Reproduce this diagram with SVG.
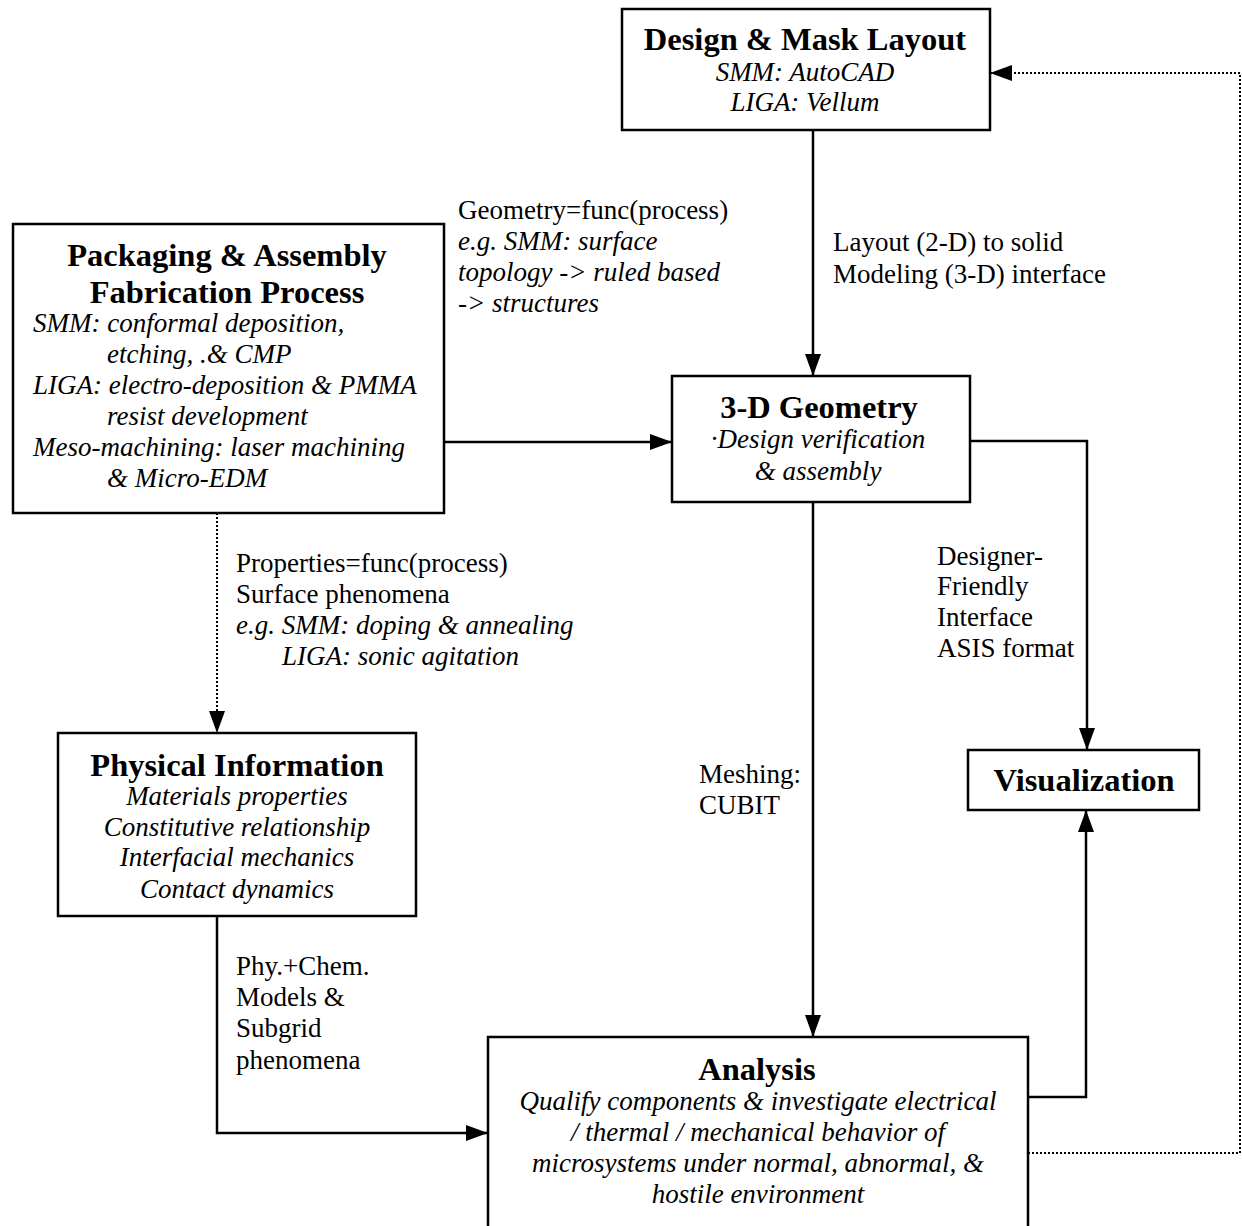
<svg xmlns="http://www.w3.org/2000/svg" width="1242" height="1226" viewBox="0 0 1242 1226">
<defs>
<marker id="ah" viewBox="0 0 22 16" refX="22" refY="8" markerWidth="22" markerHeight="16" markerUnits="userSpaceOnUse" orient="auto">
<path d="M0,0 L22,8 L0,16 Z" fill="#000"/>
</marker>
</defs>
<style>
text{font-family:"Liberation Serif","Times New Roman",serif;fill:#000}
.t{font-size:32.5px;font-weight:bold;text-anchor:middle}
.i{font-size:27px;font-style:italic}
.ic{font-size:27px;font-style:italic;text-anchor:middle}
.n{font-size:27px}
.box{fill:#fff;stroke:#000;stroke-width:2.5}
.c{fill:none;stroke:#000;stroke-width:2.5}
.d{fill:none;stroke:#000;stroke-width:2;stroke-dasharray:2 2}
</style>
<rect width="1242" height="1226" fill="#fff"/>
<g id="connectors">
<path class="c" d="M813,130 V376" marker-end="url(#ah)"/>
<path class="c" d="M444,442 H672" marker-end="url(#ah)"/>
<path class="c" d="M970,441 H1087 V750" marker-end="url(#ah)"/>
<path class="c" d="M813,502 V1037" marker-end="url(#ah)"/>
<path class="d" d="M217,513 V733" marker-end="url(#ah)"/>
<path class="c" d="M217,916 V1133 H488" marker-end="url(#ah)"/>
<path class="c" d="M1028,1097 H1086 V810" marker-end="url(#ah)"/>
<path class="d" d="M1028,1153 H1240 V73 H990" marker-end="url(#ah)"/>
</g>
<g id="labels">
<text class="n" x="833" y="251">Layout (2-D) to solid</text>
<text class="n" x="833" y="283">Modeling (3-D) interface</text>
<text class="n" x="458" y="219">Geometry=func(process)</text>
<text class="i" x="458" y="250">e.g. SMM: surface</text>
<text class="i" x="458" y="281">topology -&gt; ruled based</text>
<text class="i" x="458" y="312">-&gt; structures</text>
<text class="n" x="937" y="565">Designer-</text>
<text class="n" x="937" y="595">Friendly</text>
<text class="n" x="937" y="626">Interface</text>
<text class="n" x="937" y="657">ASIS format</text>
<text class="n" x="699" y="783">Meshing:</text>
<text class="n" x="699" y="814">CUBIT</text>
<text class="n" x="236" y="572">Properties=func(process)</text>
<text class="n" x="236" y="603">Surface phenomena</text>
<text class="i" x="236" y="634">e.g. SMM: doping &amp; annealing</text>
<text class="i" x="282" y="665">LIGA: sonic agitation</text>
<text class="n" x="236" y="975">Phy.+Chem.</text>
<text class="n" x="236" y="1006">Models &amp;</text>
<text class="n" x="236" y="1037">Subgrid</text>
<text class="n" x="236" y="1069">phenomena</text>
</g>
<g id="design">
<rect class="box" x="622" y="9" width="368" height="121"/>
<text class="t" x="805" y="50">Design &amp; Mask Layout</text>
<text class="ic" x="805" y="81">SMM: AutoCAD</text>
<text class="ic" x="805" y="111">LIGA: Vellum</text>
</g>
<g id="packaging">
<rect class="box" x="13" y="224" width="431" height="289"/>
<text class="t" x="227" y="266">Packaging &amp; Assembly</text>
<text class="t" x="227" y="303">Fabrication Process</text>
<text class="i" x="33" y="332">SMM: conformal deposition,</text>
<text class="i" x="107" y="363">etching, .&amp; CMP</text>
<text class="i" x="33" y="394">LIGA: electro-deposition &amp; PMMA</text>
<text class="i" x="107" y="425">resist development</text>
<text class="i" x="33" y="456">Meso-machining: laser machining</text>
<text class="i" x="107" y="487">&amp; Micro-EDM</text>
</g>
<g id="geometry">
<rect class="box" x="672" y="376" width="298" height="126"/>
<text class="t" x="819" y="418">3-D Geometry</text>
<text class="ic" x="818" y="448">·Design verification</text>
<text class="ic" x="818" y="480">&amp; assembly</text>
</g>
<g id="visualization">
<rect class="box" x="968" y="750" width="231" height="60"/>
<text class="t" x="1084" y="791">Visualization</text>
</g>
<g id="physical">
<rect class="box" x="58" y="733" width="358" height="183"/>
<text class="t" x="237" y="776">Physical Information</text>
<text class="ic" x="237" y="805">Materials properties</text>
<text class="ic" x="237" y="836">Constitutive relationship</text>
<text class="ic" x="237" y="866">Interfacial mechanics</text>
<text class="ic" x="237" y="898">Contact dynamics</text>
</g>
<g id="analysis">
<rect class="box" x="488" y="1037" width="540" height="200"/>
<text class="t" x="757" y="1080">Analysis</text>
<text class="ic" x="758" y="1110">Qualify components &amp; investigate electrical</text>
<text class="ic" x="758" y="1141">/ thermal / mechanical behavior of</text>
<text class="ic" x="758" y="1172">microsystems under normal, abnormal, &amp;</text>
<text class="ic" x="758" y="1203">hostile environment</text>
</g>
</svg>
